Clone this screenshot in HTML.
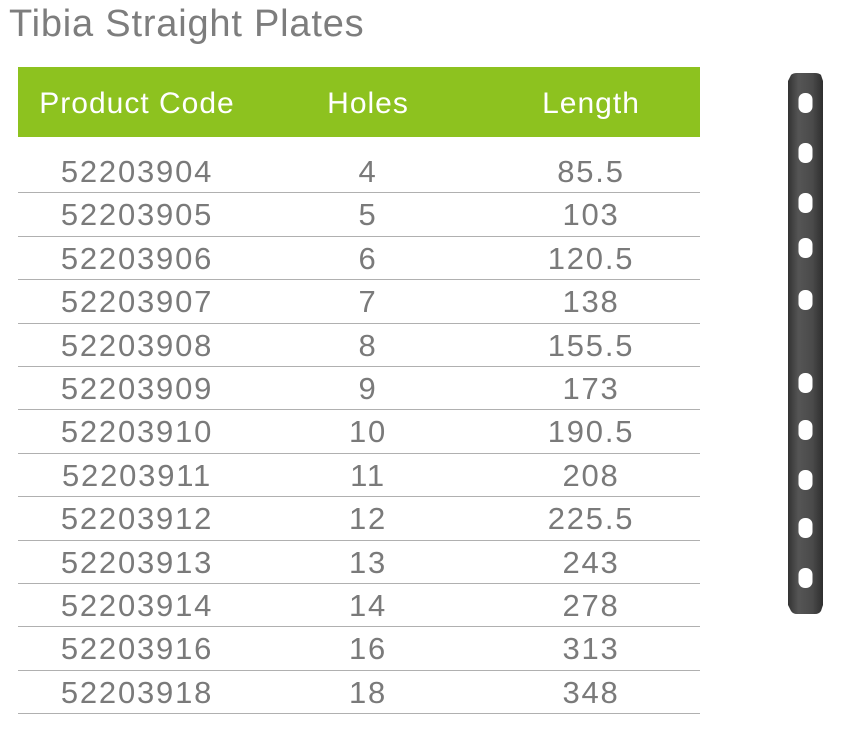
<!DOCTYPE html>
<html><head><meta charset="utf-8"><style>
body{margin:0;width:850px;height:732px;background:#fff;position:relative;overflow:hidden;font-family:"Liberation Sans",sans-serif}
.t{position:absolute;left:9px;top:3px;font-size:38px;letter-spacing:0.8px;color:#7d7d7d}
.hdr{position:absolute;left:18px;top:67px;width:682px;height:70px;background:#8dc21f}
.h{position:absolute;top:20px;color:#fff;font-size:30px;letter-spacing:1px;transform:translateX(-50%);white-space:nowrap}
.row{position:absolute;left:18px;width:682px;height:43.4px;border-bottom:1.5px solid #b0b0b0;box-sizing:border-box}
.c{position:absolute;top:4px;color:#7a7a7a;font-size:31px;letter-spacing:1.8px;transform:translateX(-50%);white-space:nowrap}
</style></head><body>
<div class="t">Tibia Straight Plates</div>
<div class="hdr">
<span class="h" style="left:119px">Product Code</span>
<span class="h" style="left:350px">Holes</span>
<span class="h" style="left:573px">Length</span>
</div>
<div id="rows"></div>
<svg style="position:absolute;left:785px;top:73px" width="42" height="542">
<defs><linearGradient id="g" x1="0" x2="1"><stop offset="0" stop-color="#333"/><stop offset="0.3" stop-color="#555"/><stop offset="0.7" stop-color="#4a4a4a"/><stop offset="1" stop-color="#2e2e2e"/></linearGradient></defs>
<path d="M6 2 Q8 0 12 0 L30 0 Q34 0 36 2 L38 8 L38 532 L36 538 Q34 541 30 541 L12 541 Q8 541 6 538 L3 532 L3 8 Z" fill="url(#g)"/>
<g fill="#fff" id="holes"></g>
</svg>
<script>
const codes=["52203904","52203905","52203906","52203907","52203908","52203909","52203910","52203911","52203912","52203913","52203914","52203916","52203918"];
const holes=["4","5","6","7","8","9","10","11","12","13","14","16","18"];
const lengths=["85.5","103","120.5","138","155.5","173","190.5","208","225.5","243","278","313","348"];
const R=document.getElementById('rows');
codes.forEach((c,i)=>{
 const r=document.createElement('div');r.className='row';
 
 
 r.style.top=(150+i*43.4)+'px';
 [[c,119],[holes[i],350],[lengths[i],573]].forEach(([v,x])=>{
  const s=document.createElement('span');s.className='c';s.style.left=x+'px';s.textContent=v;
  
  
  r.appendChild(s);});
 R.appendChild(r);
});
const hy=[30,80,130,175,227,310,357,407,455,505];
const H=document.getElementById('holes');
hy.forEach(y=>{
 const e=document.createElementNS('http://www.w3.org/2000/svg','rect');
 e.setAttribute('x',13.5);e.setAttribute('y',y-10);e.setAttribute('width',14);e.setAttribute('height',20);e.setAttribute('rx',6.5);
 
 
 H.appendChild(e);
});
</script>
</body></html>
